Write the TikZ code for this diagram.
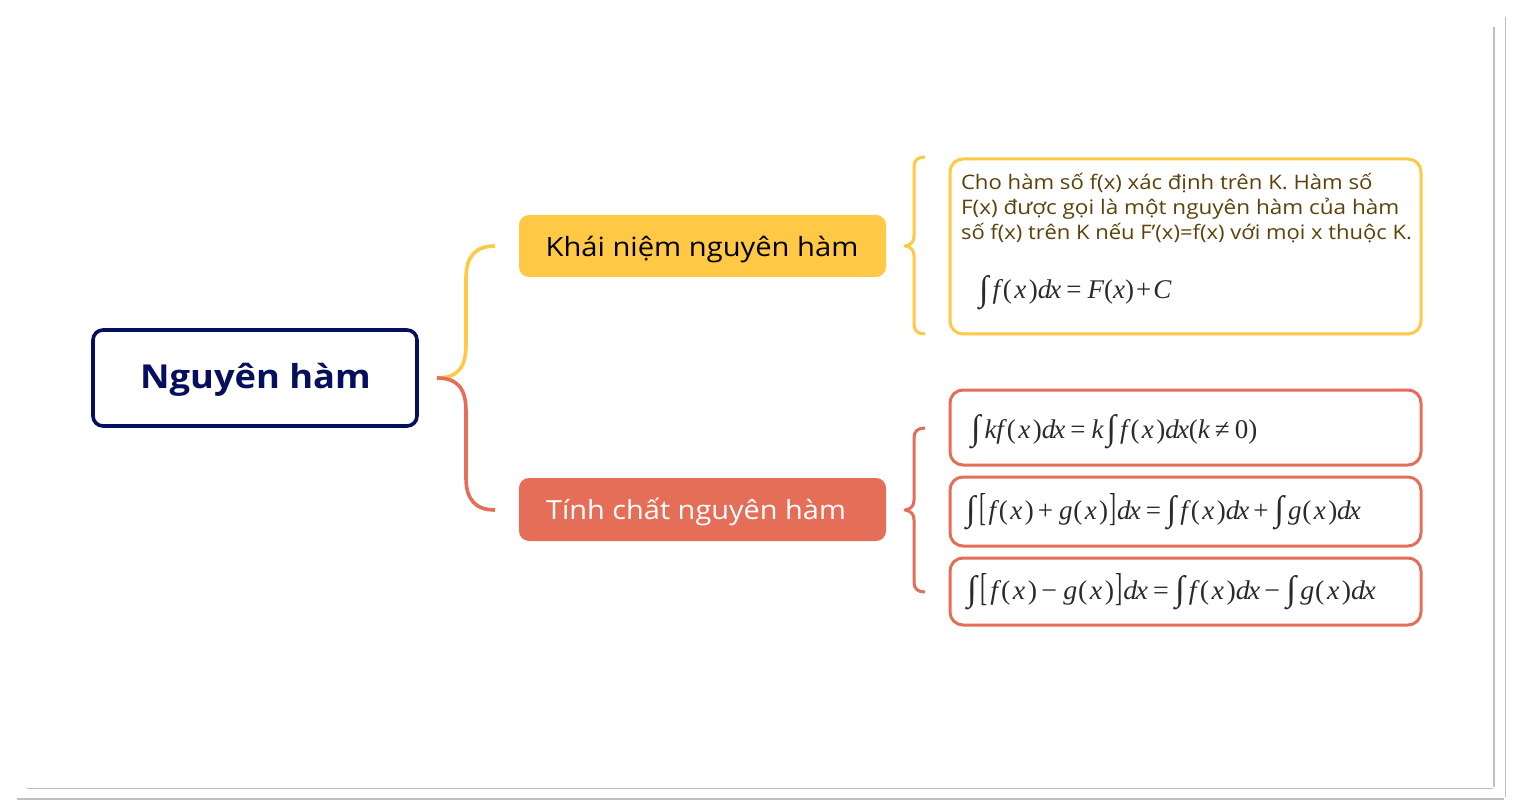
\documentclass[tikz,border=0pt]{standalone}
\usepackage{fontspec}
\setmainfont{Open Sans}[FakeStretch=1.1]
\newfontfamily\fs{Liberation Serif}
\usetikzlibrary{calc}
\definecolor{navy}{HTML}{060F5E}
\definecolor{sun}{HTML}{FFC845}
\definecolor{coral}{HTML}{E56E58}
\definecolor{brownish}{HTML}{5C4208}
\definecolor{framegray}{HTML}{C0C0C0}
\definecolor{mathgray}{HTML}{2A2A2A}
\newcommand{\fv}[1]{{\fs\itshape #1}}
\newcommand{\Int}{\raisebox{-1.5pt}{\resizebox{9.5pt}{25pt}{∫}}\hspace{4pt}}
\newcommand{\Lb}{\raisebox{-1pt}{\resizebox{7pt}{27pt}{[}}\hspace{2pt}}
\newcommand{\Rb}{\hspace{1pt}\raisebox{-1pt}{\resizebox{7pt}{27pt}{]}}\hspace{1pt}}
\newcommand{\Ax}{(\hspace{.09em}\fv{x}\hspace{.09em})}
\newcommand{\Ff}{\fv{f}\hspace{.11em}\Ax}
\newcommand{\Gg}{\fv{g}\hspace{.03em}\Ax}
\newcommand{\Dx}{\fv{d}\hspace{-.07em}\fv{x}}
\newcommand{\Eq}{\hspace{5pt}=\hspace{6pt}}
\newcommand{\Op}[1]{\hspace{4pt}#1\hspace{6pt}}
\tikzset{
  every node/.style={inner sep=0pt,outer sep=0pt},
  rootbox/.style={draw=navy,line width=3.6pt,rounded corners=10pt,minimum width=324pt,minimum height=96pt},
  topicbox/.style={rounded corners=10pt,minimum width=367pt,minimum height=62pt},
  topiclabel/.style={font=\fontsize{26.5}{32}\selectfont},
  detailbox/.style={draw=#1,line width=3pt,rounded corners=13pt,minimum width=471pt,anchor=north west},
  bracket/.style={line width=#1,line cap=butt,line join=round},
  frameline/.style={draw=framegray,line width=1.2pt},
  mathtext/.style={anchor=base west,text=mathgray,font=\fontsize{27}{30}\selectfont\fs}
}
\begin{document}
\begin{tikzpicture}[x=1pt,y=-1pt]
\useasboundingbox (0,0) rectangle (1516,810);
\fill[white] (0,0) rectangle (1516,810);
% frame
\coordinate (fa1) at (1494,27); \coordinate (fa2) at (1494,787);
\coordinate (fb1) at (1505.5,17); \coordinate (fb2) at (1505.5,797);
\coordinate (fc1) at (27,788.5); \coordinate (fc2) at (1493,788.5);
\coordinate (fd1) at (17,799); \coordinate (fd2) at (1504,799);
\draw[frameline] (fa1)--(fa2); \draw[frameline] (fb1)--(fb2);
\draw[frameline] (fc1)--(fc2); \draw[frameline] (fd1)--(fd2);
% boxes
\node[rootbox] (root) at (255,378) {};
\node[text=navy,font=\fontsize{33}{40}\selectfont\bfseries] (rootlabel) at (255.5,380) {Nguyên hàm};
\node[topicbox,fill=sun] (t1) at (702.5,246) {};
\node[topiclabel,text=black] (t1label) at (702,249.5) {Khái niệm nguyên hàm};
\node[topicbox,fill=coral,minimum height=63pt] (t2) at (702.5,509.5) {};
\node[text=white,font=\fontsize{26.3}{32}\selectfont] (t2label) at (696,512) {Tính chất nguyên hàm};
\node[detailbox=sun,minimum height=175pt] (d1) at (950,159) {};
\node[detailbox=coral,minimum height=75pt] (d2) at (950,390) {};
\node[detailbox=coral,minimum height=69pt] (d3) at (950,477) {};
\node[detailbox=coral,minimum height=67pt] (d4) at (950,558) {};
% brace anchors
\coordinate (rt) at (437,378);
\coordinate (e1) at (495,246);
\coordinate (e2) at (495,510);
\coordinate (s1) at (905,246);
\coordinate (s1a) at (925,157);
\coordinate (s1b) at (925,334);
\coordinate (s2) at (905,510);
\coordinate (s2a) at (925,428);
\coordinate (s2b) at (925,592);
% main brace
\draw[bracket=3.6pt,sun] (rt) .. controls (457,378) and (466,368) .. (466,345) -- (466,278) .. controls (466,256) and (476,246) .. (e1);
\draw[bracket=3.6pt,coral] (rt) .. controls (457,378) and (466,388) .. (466,411) -- (466,478) .. controls (466,500) and (476,510) .. (e2);
% right braces
\draw[bracket=3pt,sun] (s1a) .. controls (918,157) and (914,160) .. (914,167) -- (914,236) .. controls (914,242) and (911,245) .. (s1) .. controls (911,247) and (914,250) .. (914,256) -- (914,324) .. controls (914,331) and (918,334) .. (s1b);
\draw[bracket=3pt,coral] (s2a) .. controls (918,428) and (914,431) .. (914,438) -- (914,500) .. controls (914,506) and (911,509) .. (s2) .. controls (911,511) and (914,514) .. (914,520) -- (914,582) .. controls (914,589) and (918,592) .. (s2b);
% detail text
\node[anchor=west,text=brownish,font=\fontsize{20}{25}\selectfont,align=left] (l1) at (961,208) {\scalebox{1.007}[1]{Cho hàm số f(x) xác định trên K. Hàm số}\\\scalebox{1.023}[1]{F(x) được gọi là một nguyên hàm của hàm}\\số f(x) trên K nếu F’(x)=f(x) với mọi x thuộc K.};
% formulas
\node[mathtext] (m1) at (979,299) {\Int\Ff\Dx\Eq\fv{F}(\fv{x})\hspace{2pt}+\hspace{2pt}\fv{C}};
\node[mathtext] (m2) at (971,438) {\Int\fv{kf}\hspace{.11em}\Ax\Dx\Eq\fv{k}\hspace{3pt}\Int\Ff\Dx(\fv{k}\hspace{5pt}≠\hspace{5pt}0)};
\node[mathtext] (m3) at (966,519) {\Int\Lb\Ff\Op{+}\Gg\Rb\Dx\Eq\Int\Ff\Dx\Op{+}\Int\Gg\Dx};
\node[mathtext] (m4) at (967,599) {\scalebox{1.035}[1]{\Int\Lb\Ff\Op{−}\Gg\Rb\Dx\Eq\Int\Ff\Dx\Op{−}\Int\Gg\Dx}};
\end{tikzpicture}
\end{document}
